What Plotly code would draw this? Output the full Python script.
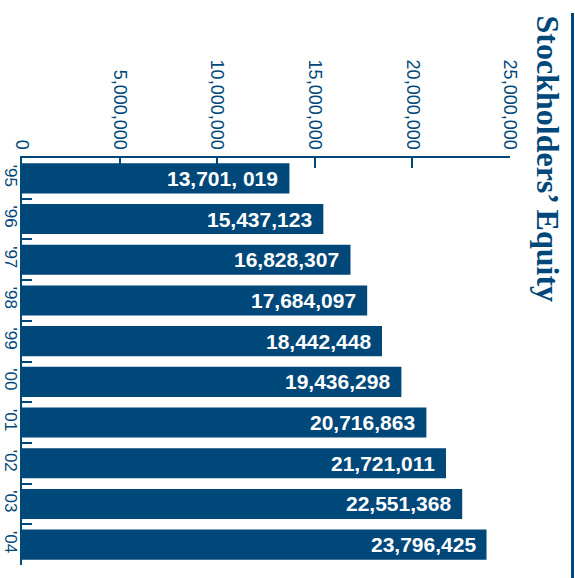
import plotly.graph_objects as go

# Stockholders' equity by fiscal year
years = ["'95", "'96", "'97", "'98", "'99", "'00", "'01", "'02", "'03", "'04"]
equity = [13701019, 15437123, 16828307, 17684097, 18442448,
          19436298, 20716863, 21721011, 22551368, 23796425]
equity_labels = ["13,701, 019", "15,437,123", "16,828,307", "17,684,097", "18,442,448",
                 "19,436,298", "20,716,863", "21,721,011", "22,551,368", "23,796,425"]
x_ticks = [0, 5000000, 10000000, 15000000, 20000000, 25000000]
x_tick_text = ["0", "5,000,000", "10,000,000", "15,000,000", "20,000,000", "25,000,000"]

NAVY = "#00477a"
W, H = 575, 578
L, R, T, B = 22, 65, 158, 13
PW, PH = W - L - R, H - T - B


def px_to_paper_x(px):
    return (px - L) / PW


def px_to_paper_y(py):
    return (H - B - py) / PH


fig = go.Figure()
fig.add_trace(go.Bar(
    x=equity, y=years, orientation="h",
    marker=dict(color=NAVY, line=dict(width=0)),
    width=0.74, hoverinfo="skip",
))

# value labels inside the bar ends
for yr, val, lab in zip(years, equity, equity_labels):
    fig.add_annotation(
        x=val, y=yr, xref="x", yref="y", text=lab, showarrow=False,
        xanchor="right", yanchor="middle", xshift=-9,
        font=dict(family="Liberation Sans, Arial", size=21, color="white", weight="bold"),
    )

fig.update_layout(
    width=W, height=H,
    margin=dict(l=L, r=R, t=T, b=B),
    paper_bgcolor="white", plot_bgcolor="white",
    showlegend=False,
    xaxis=dict(
        side="top", range=[0, 25000000], tickvals=x_ticks, ticktext=x_tick_text,
        tickangle=90, showgrid=False, zeroline=False, automargin=False,
        showline=True, linecolor=NAVY, linewidth=2,
        ticks="inside", ticklen=10, tickwidth=2, tickcolor=NAVY,
        tickfont=dict(family="Liberation Sans, Arial", size=18, color=NAVY),
        layer="below traces", fixedrange=True,
    ),
    yaxis=dict(
        categoryorder="array", categoryarray=years, autorange="reversed",
        tickangle=90, showgrid=False, zeroline=False, automargin=False,
        showline=True, linecolor=NAVY, linewidth=2,
        ticks="inside", ticklen=10, tickwidth=2, tickcolor=NAVY,
        tickson="boundaries", ticklabelstandoff=-5,
        tickfont=dict(family="Liberation Sans, Arial", size=17, color=NAVY),
        layer="below traces", fixedrange=True,
    ),
    font=dict(family="Liberation Sans, Arial", color=NAVY),
)

# side title and rule
fig.add_annotation(
    text="Stockholders’ Equity", xref="paper", yref="paper",
    x=px_to_paper_x(548), y=px_to_paper_y(13), xanchor="center", yanchor="top",
    textangle=90, showarrow=False,
    font=dict(family="Liberation Serif, Times New Roman", size=32, color=NAVY, weight="bold"),
)
fig.add_shape(
    type="line", xref="paper", yref="paper",
    x0=px_to_paper_x(572.5), x1=px_to_paper_x(572.5),
    y0=px_to_paper_y(13), y1=px_to_paper_y(H + 2),
    line=dict(color=NAVY, width=3),
)

fig.write_html("out.html")
